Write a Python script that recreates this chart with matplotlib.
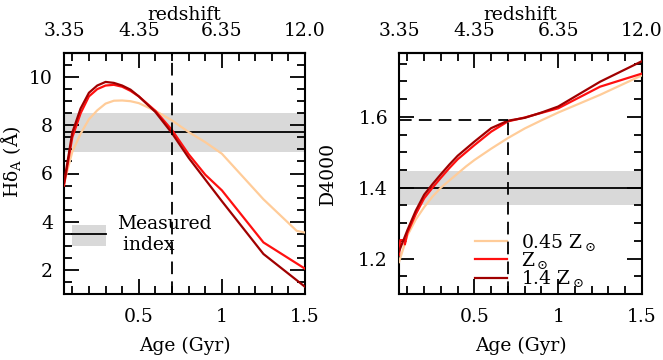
import matplotlib
matplotlib.use("Agg")
import matplotlib.pyplot as plt
from matplotlib.patches import Patch
from matplotlib.lines import Line2D
from matplotlib.legend_handler import HandlerTuple
from matplotlib.ticker import MultipleLocator, FixedLocator, FixedFormatter

plt.rcParams['font.family'] = ['DejaVu Serif']
plt.rcParams['mathtext.fontset'] = 'dejavuserif'
FS = 13.5

# ---------------- data ----------------
ages = [0.05, 0.1, 0.15, 0.2, 0.25, 0.3, 0.35, 0.4, 0.45, 0.5, 0.6, 0.7, 0.8, 0.9, 1.0, 1.25, 1.5]

# H delta_A
hd_low_ages = [0.05, 0.1, 0.15, 0.2, 0.25, 0.3, 0.35, 0.4, 0.45, 0.5, 0.6, 0.7, 0.8, 0.9, 1.0, 1.25, 1.45, 1.5]
hd_low = [5.6, 6.9, 7.65, 8.25, 8.62, 8.9, 9.02, 9.03, 9.0, 8.92, 8.6, 8.2, 7.72, 7.3, 6.82, 4.93, 3.62, 3.55]
hd_sol = [5.5, 7.5, 8.5, 9.2, 9.5, 9.65, 9.68, 9.6, 9.43, 9.2, 8.6, 7.8, 6.8, 5.95, 5.3, 3.14, 2.05]
hd_high = [5.6, 7.7, 8.7, 9.35, 9.65, 9.8, 9.76, 9.65, 9.48, 9.2, 8.55, 7.67, 6.65, 5.75, 4.85, 2.66, 1.3]

# D4000
d4_low = [1.19, 1.265, 1.31, 1.345, 1.375, 1.40, 1.42, 1.44, 1.46, 1.478, 1.51, 1.54, 1.567, 1.59, 1.612, 1.662, 1.717]
d4_sol_ages = [0.05, 0.058, 0.085, 0.085, 0.1, 0.15, 0.2, 0.25, 0.3, 0.35, 0.4, 0.45, 0.5, 0.6, 0.7, 0.8, 0.9, 1.0, 1.25, 1.5]
d4_sol = [1.21, 1.252, 1.252, 1.24, 1.272, 1.325, 1.37, 1.40, 1.428, 1.455, 1.48, 1.50, 1.52, 1.558, 1.587, 1.598, 1.611, 1.624, 1.685, 1.722]
d4_high = [1.22, 1.28, 1.335, 1.38, 1.41, 1.438, 1.465, 1.49, 1.51, 1.53, 1.568, 1.589, 1.597, 1.612, 1.629, 1.699, 1.757]

# measured indices
hd_meas, hd_lo, hd_hi = 7.73, 6.9, 8.5
d4_meas, d4_lo, d4_hi = 1.40, 1.35, 1.448
age_best = 0.7
d4_best = 1.592

z_ticks = [0.05, 0.5, 1.0, 1.5]
z_labels = ['3.35', '4.35', '6.35', '12.0']

c_low, c_sol, c_high = '#FFCC99', '#FF1010', '#A00000'
series_labels = ['0.45 Z$_\\odot$', 'Z$_\\odot$', '1.4 Z$_\\odot$']

fig = plt.figure(figsize=(6.63, 3.6), dpi=100)
ax1 = fig.add_axes([64/663, 66/360, 241/663, 241/360])
ax2 = fig.add_axes([399/663, 66/360, 243/663, 241/360])


def style(ax, ymajor, yminor):
    ax.set_xlim(0.05, 1.5)
    ax.xaxis.set_major_locator(FixedLocator([0.5, 1.0, 1.5]))
    ax.xaxis.set_major_formatter(FixedFormatter(['0.5', '1', '1.5']))
    ax.xaxis.set_minor_locator(MultipleLocator(0.1))
    ax.yaxis.set_major_locator(MultipleLocator(ymajor))
    ax.yaxis.set_minor_locator(MultipleLocator(yminor))
    ax.tick_params(which='both', direction='in', top=False, right=True,
                   width=1.3, labelsize=FS)
    ax.tick_params(which='major', length=11)
    ax.tick_params(which='minor', length=5.5)
    ax.tick_params(axis='x', which='major', pad=10)
    ax.tick_params(axis='y', which='major', pad=8)
    for s in ax.spines.values():
        s.set_linewidth(1.5)
    sec = ax.secondary_xaxis('top')
    sec.xaxis.set_major_locator(FixedLocator(z_ticks))
    sec.xaxis.set_major_formatter(FixedFormatter(z_labels))
    sec.xaxis.set_minor_locator(MultipleLocator(0.1))
    sec.tick_params(which='both', direction='in', width=1.3, labelsize=FS, pad=9)
    sec.tick_params(which='major', length=11)
    sec.tick_params(which='minor', length=5.5)
    sec.spines['top'].set_linewidth(1.5)
    sec.set_xlabel('redshift', fontsize=FS, labelpad=2)
    ax.set_xlabel('Age (Gyr)', fontsize=FS, labelpad=8)


# ---------- left panel ----------
ax1.axhspan(hd_lo, hd_hi, color='#D9D9D9', lw=0, zorder=1)
ax1.axhline(hd_meas, color='black', lw=1.3, zorder=2)
ax1.plot(hd_low_ages, hd_low, color=c_low, lw=1.6, zorder=3)
ax1.plot(ages, hd_sol, color=c_sol, lw=1.6, zorder=4)
ax1.plot(ages, hd_high, color=c_high, lw=1.6, zorder=5)
ax1.axvline(age_best, color='black', lw=1.3, ls=(0, (7, 4)), zorder=6)
ax1.set_ylim(1, 11)
style(ax1, 2, 0.5)
ax1.set_ylabel('Hδ$_\\mathrm{A}$ (Å)', fontsize=FS)
ax1.yaxis.set_label_coords(-0.17, 0.55)

h_meas = (Patch(facecolor='#D9D9D9', edgecolor='none'),
          Line2D([], [], color='black', lw=1.3))
ax1.legend([h_meas], ['Measured\n index'], handler_map={tuple: HandlerTuple(ndivide=1, pad=0)},
           loc='lower left', bbox_to_anchor=(0.033, 0.165), frameon=False,
           borderpad=0, borderaxespad=0, handlelength=1.8, handleheight=1.3,
           handletextpad=0.6, fontsize=FS)

# ---------- right panel ----------
ax2.axhspan(d4_lo, d4_hi, color='#D9D9D9', lw=0, zorder=1)
ax2.axhline(d4_meas, color='black', lw=1.3, zorder=2)
l1, = ax2.plot(ages, d4_low, color=c_low, lw=1.6, zorder=3)
l2, = ax2.plot(d4_sol_ages, d4_sol, color=c_sol, lw=1.6, zorder=4)
l3, = ax2.plot(ages, d4_high, color=c_high, lw=1.6, zorder=5)
ax2.set_ylim(1.1, 1.78)
ax2.vlines(age_best, 1.1, d4_best, color='black', lw=1.3, ls=(0, (7, 4)), zorder=6)
ax2.hlines(d4_best, 0.05, age_best, color='black', lw=1.3, ls=(0, (7, 4)), zorder=6)
style(ax2, 0.2, 0.05)
ax2.set_ylabel('D4000', fontsize=FS)
ax2.yaxis.set_label_coords(-0.255, 0.5)

ax2.legend([l1, l2, l3], series_labels, loc='lower left', bbox_to_anchor=(0.313, 0.02),
           frameon=False, borderpad=0, borderaxespad=0, handlelength=1.7,
           handletextpad=0.75, labelspacing=-0.15, fontsize=FS)

fig.savefig('out.png', dpi=100)
